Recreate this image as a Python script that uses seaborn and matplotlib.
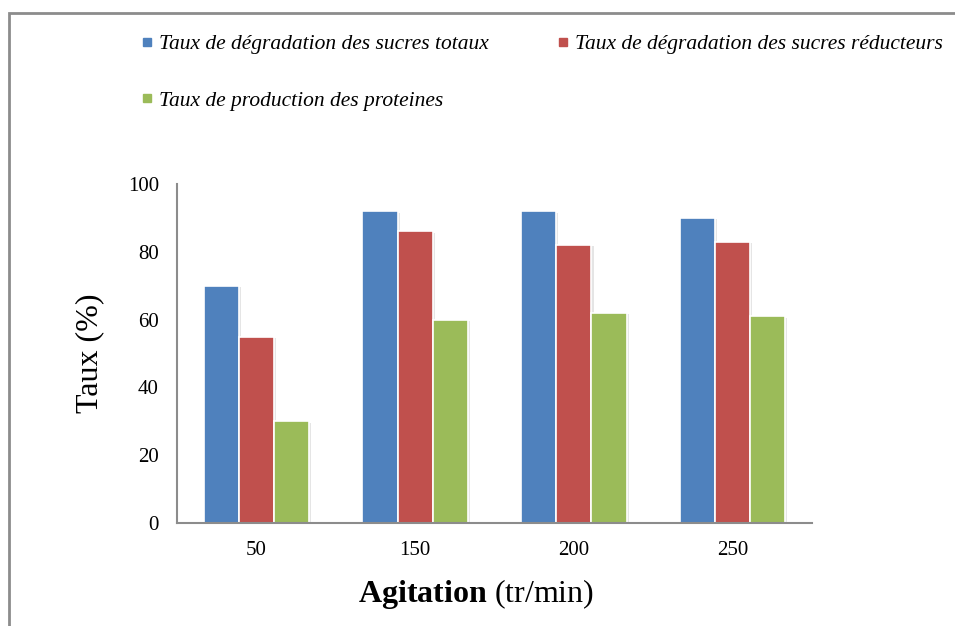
import matplotlib
matplotlib.use("Agg")
import matplotlib.pyplot as plt
import matplotlib.patheffects as pe
from matplotlib.lines import Line2D
from matplotlib.patches import Rectangle
import seaborn as sns
import pandas as pd

categories = ["50", "150", "200", "250"]
series_names = [
    "Taux de dégradation des sucres totaux",
    "Taux de dégradation des sucres réducteurs",
    "Taux de production des proteines",
]
sucres_totaux = [70, 92, 92, 90]
sucres_reducteurs = [55, 86, 82, 83]
proteines = [30, 60, 62, 61]
colors = ["#4F81BD", "#C0504D", "#9BBB59"]
y_ticks = [0, 20, 40, 60, 80, 100]

rows = []
for name, vals in zip(series_names, [sucres_totaux, sucres_reducteurs, proteines]):
    for c, v in zip(categories, vals):
        rows.append({"Agitation": c, "Serie": name, "Taux": v})
df = pd.DataFrame(rows)

sns.set_style("white")
plt.rcParams["font.family"] = ["Liberation Serif", "DejaVu Serif"]
plt.rcParams["mathtext.fontset"] = "custom"
plt.rcParams["mathtext.bf"] = "Liberation Serif:bold"
plt.rcParams["mathtext.rm"] = "Liberation Serif"
plt.rcParams["text.color"] = "black"
plt.rcParams["axes.labelcolor"] = "black"
plt.rcParams["xtick.color"] = "black"
plt.rcParams["ytick.color"] = "black"

fig = plt.figure(figsize=(9.55, 6.26), dpi=100)
ax = fig.add_axes([177 / 955, 1 - 523 / 626, 635 / 955, 339 / 626])

sns.barplot(data=df, x="Agitation", y="Taux", hue="Serie", order=categories,
            hue_order=series_names, palette=colors, width=0.665, ax=ax,
            edgecolor="white", linewidth=1.2, saturation=1, legend=False)
for p in ax.patches:
    p.set_path_effects([pe.SimplePatchShadow(offset=(1.5, -1), shadow_rgbFace="#999999", alpha=0.25),
                        pe.Normal()])

ax.set_xlim(-0.5, 3.5)
ax.set_ylim(0, 100)
ax.set_yticks(y_ticks)
ax.tick_params(axis="both", length=0, labelsize=15, labelcolor="black")
ax.tick_params(axis="y", pad=13)
ax.tick_params(axis="x", pad=13)
for s in ["top", "right"]:
    ax.spines[s].set_visible(False)
for s in ["left", "bottom"]:
    ax.spines[s].set_color("#8c8c8c")
    ax.spines[s].set_linewidth(1.5)

ax.set_ylabel("Taux (%)", fontsize=23, color="black")
ax.yaxis.set_label_coords((104 - 177) / 635, 0.5)
ax.set_xlabel(r"$\mathbf{Agitation}$ (tr/min)", fontsize=23, color="black")
ax.xaxis.set_label_coords((476.5 - 177) / 635, -0.16)

handles = [Line2D([], [], marker="s", color=c, linestyle="none", markersize=6) for c in colors]
order = [0, 2, 1]
fig.legend([handles[i] for i in order], [series_names[i] for i in order],
           loc="upper left", bbox_to_anchor=(131 / 955, 1 - 23.5 / 626),
           ncol=2, frameon=False, prop={"family": "Liberation Serif", "style": "italic", "size": 15.5},
           handlelength=0.5, handletextpad=0.3, columnspacing=3.2, labelspacing=1.7, borderpad=0)

fig.patches.append(Rectangle((9 / 955, -0.1), 1.2, 1 - 13 / 626 + 0.1, transform=fig.transFigure,
                             fill=False, edgecolor="#8c8c8c", linewidth=2, zorder=0))

fig.savefig("out.png", dpi=100)
